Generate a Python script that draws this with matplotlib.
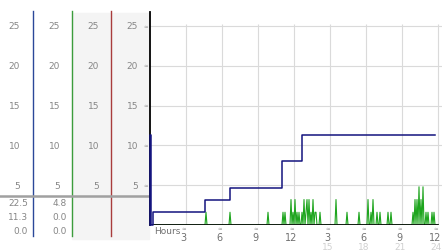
import matplotlib.pyplot as plt
import matplotlib.transforms as mtransforms
import numpy as np

# --- data ---
y_ticks = [5, 10, 15, 20, 25]
hour_ticks = [3, 6, 9, 12, 15, 18, 21, 24]
hour_labels = ['3', '6', '9', '12', '3', '6', '9', '12']
hour_labels2 = ['', '', '', '', '15', '18', '21', '24']

gust_hours = [0, 0, 0.1, 0.25, 4.58, 6.67, 11.0, 12.67, 23.75]
gust_vals = [0, 11.3, 0, 1.6, 3.2, 4.7, 8.0, 11.3, 11.3]

wind_spike_hours = [4.67, 6.67, 9.83, 11.08, 11.25, 11.75, 11.92, 12.08, 12.25,
                    12.42, 12.67, 12.83, 13.0, 13.08, 13.25, 13.42, 13.58, 13.75,
                    13.83, 14.17, 15.5, 16.42, 17.42, 18.17, 18.42, 18.58, 18.92,
                    19.17, 19.83, 20.08, 21.92, 22.08, 22.25, 22.42, 22.58, 22.75,
                    23.0, 23.17, 23.5, 23.67]
wind_spike_vals = [1.6, 1.6, 1.6, 1.6, 1.6, 3.2, 1.6, 3.2, 1.6,
                   1.6, 1.6, 3.2, 1.6, 3.2, 3.2, 1.6, 3.2, 1.6,
                   1.6, 1.6, 3.2, 1.6, 1.6, 3.2, 1.6, 3.2, 1.6,
                   1.6, 1.6, 1.6, 1.6, 3.2, 3.2, 4.8, 3.2, 4.8,
                   1.6, 1.6, 1.6, 1.6]

gust_stats = ['22.5', '11.3', '0.0']
wind_stats = ['4.8', '0.0', '0.0']

# 5-minute samples, zero where no spike was read
wind_t = np.arange(0, 24 * 12 + 1) / 12.0
wind_v = np.zeros_like(wind_t)
for h, v in zip(wind_spike_hours, wind_spike_vals):
    wind_v[int(round(h * 12))] = v

# --- styles ---
gustColour = '#14147e'
windColour = '#1ea51e'
gridColour = '#dadada'
labelColour = '#868686'
font = {'family': 'DejaVu Sans', 'fontsize': 6.5}

W, H = 442, 253
fig = plt.figure(figsize=(W / 100, H / 100), dpi=100)

# pixel overlay for the side panel layout
bg = fig.add_axes([0, 0, 1, 1])
bg.set_xlim(0, W)
bg.set_ylim(H, 0)
bg.axis('off')

px_per_unit = 7.96
ax = fig.add_axes([150 / W, (H - 226) / H, 291.6 / W, 213 / H])
ax.set_xlim(0, 24.3)
ax.set_ylim(0, 213 / px_per_unit)
ax.set_xticks([])
ax.set_yticks([])
for s in ['top', 'right', 'bottom']:
    ax.spines[s].set_visible(False)
ax.spines['left'].set_color('black')
ax.spines['left'].set_linewidth(1.3)

# side panel
bg.add_patch(plt.Rectangle((72, 14), 77, 226, color='#f4f4f4', zorder=0))
for xc, c in [(33, '#2b4899'), (72, '#3c9c3c'), (111, '#a83c3c')]:
    bg.plot([xc, xc], [12, 237], color=c, lw=1.0)
bg.plot([0, 151], [197, 197], color='#a0a0a0', lw=1.8)

ty = mtransforms.blended_transform_factory(bg.transData, ax.transData)
tx = mtransforms.blended_transform_factory(ax.transData, bg.transData)

for v in y_ticks:
    for xr in [20, 60, 99, 138]:
        ax.text(xr, v, str(v), transform=ty, ha='right', va='center',
                color=labelColour, clip_on=False, **font)
    ax.text(146, v, '\u2248', transform=ty, ha='center', va='center',
            color='#999999', fontsize=4, clip_on=False)

for i, (a, b) in enumerate(zip(gust_stats, wind_stats)):
    yy = 204 + i * 14
    bg.text(28, yy, a, ha='right', va='center', color=labelColour, **font)
    bg.text(67, yy, b, ha='right', va='center', color=labelColour, **font)

# grid
ax.vlines(hour_ticks, 0, 25.2, color=gridColour, lw=0.8, zorder=1)
ax.hlines(y_ticks, 0, 24.3, color=gridColour, lw=0.8, zorder=1)

# series
ax.plot(wind_t, wind_v, color=windColour, lw=0.8, zorder=2)
ax.plot([0, 24], [0, 0], color='black', lw=1.2, zorder=3)
ax.plot(gust_hours, gust_vals, color=gustColour, lw=1.1, drawstyle='steps-post',
        zorder=4, clip_on=False)

# x labels
ax.text(0.35, 232, 'Hours', transform=tx, ha='left', va='center',
        color='#707070', clip_on=False, **font)
for h, l1, l2 in zip(hour_ticks, hour_labels, hour_labels2):
    ax.text(h - 0.2, 229.5, '\u2248', transform=tx, ha='center', va='center',
            color='#999999', fontsize=4, clip_on=False)
    ax.text(h - 0.2, 238.5, l1, transform=tx, ha='center', va='center',
            color='#707070', clip_on=False, family='DejaVu Sans', fontsize=7)
    if l2:
        ax.text(h - 0.2, 247.5, l2, transform=tx, ha='center', va='center',
                color='#d0d0d0', clip_on=False, **font)

# legend
for xc, txt, c in [(161, 'Gust 05/13/09', gustColour), (302, 'Wind 05/13/09', windColour)]:
    bg.plot(xc, 20, 'o', ms=4.5, color='#b8b8b8', mec='#8a8a8a', mew=0.6)
    bg.text(xc + 5, 20, txt, ha='left', va='center', color=c, **font)

fig.savefig('out.png', dpi=100)
